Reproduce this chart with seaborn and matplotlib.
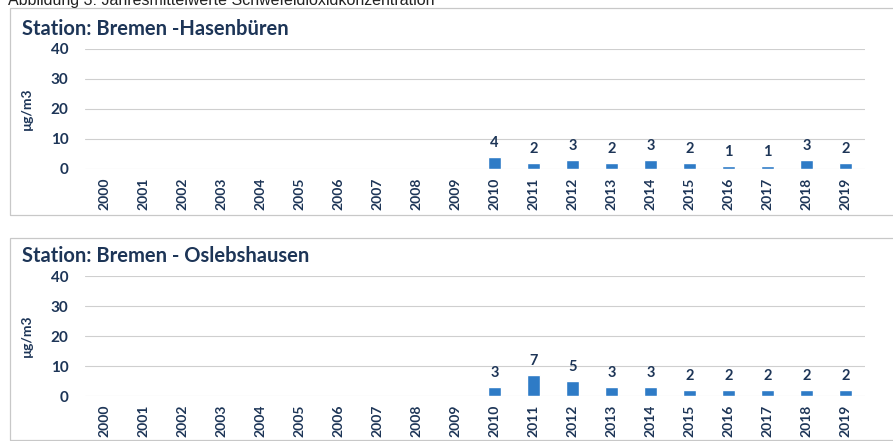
import numpy as np
import pandas as pd
import matplotlib
matplotlib.use("Agg")
import matplotlib.pyplot as plt
from matplotlib.patches import Rectangle
import seaborn as sns

# ================= DATA =================
years = [str(y) for y in range(2000, 2020)]
hasenbueren = [np.nan] * 10 + [4, 2, 3, 2, 3, 2, 1, 1, 3, 2]
oslebshausen = [np.nan] * 10 + [3, 7, 5, 3, 3, 2, 2, 2, 2, 2]
stations = ["Station: Bremen -Hasenbüren", "Station: Bremen - Oslebshausen"]
fig_title = "Abbildung 3: Jahresmittelwerte Schwefeldioxidkonzentration"

# ================= STYLE =================
sns.set_style("white")
plt.rcParams["font.family"] = ["Lato", "DejaVu Sans"]

bar_color = "#2E7BC6"
text_color = "#1D3557"
grid_color = "#cfcfcf"

W, H = 893, 441
fig = plt.figure(figsize=(W / 100, H / 100), dpi=100)

# panel frames (pixel coords -> figure fraction)
for top, bottom in [(8, 215), (238, 440)]:
    fig.patches.append(Rectangle((10 / W, 1 - bottom / H), 1.0, (bottom - top) / H,
                                 transform=fig.transFigure, fill=False,
                                 edgecolor="#c8c8c8", linewidth=0.9))

fig.text(8 / W, 1 - 1 / H, fig_title, family=["Liberation Sans", "DejaVu Sans"],
         fontsize=11.5, color="#222222", va="center", ha="left")

panels = [(hasenbueren, 169), (oslebshausen, 396)]

for (values, zero_px), name in zip(panels, stations):
    ax = fig.add_axes([85 / W, 1 - zero_px / H, 780 / W, 120 / H])
    df = pd.DataFrame({"Jahr": years, "Wert": values})
    sns.barplot(data=df, x="Jahr", y="Wert", order=years, color=bar_color,
                width=0.34, saturation=1, ax=ax)
    ax.set_ylim(0, 40)
    ax.set_xlim(-0.5, len(years) - 0.5)
    ax.set_yticks([0, 10, 20, 30, 40])
    for yv in [0, 10, 20, 30, 40]:
        ax.axhline(yv, color=grid_color, linewidth=0.8, zorder=0)
    sns.despine(ax=ax, left=True, bottom=True, top=True, right=True)
    ax.tick_params(axis="y", length=0, pad=12, labelsize=11, labelcolor=text_color)
    ax.tick_params(axis="x", length=0, pad=6, labelsize=10, labelcolor=text_color,
                   rotation=90)
    for lab in ax.get_xticklabels() + ax.get_yticklabels():
        lab.set_fontweight("bold")
    ax.set_xlabel("")
    ax.set_ylabel("µg/m3", fontsize=10, fontweight="bold", color=text_color)
    ax.yaxis.set_label_coords(-0.067, 0.5)

    # value labels
    for i, v in enumerate(values):
        if not np.isnan(v):
            ax.annotate(f"{v:g}", (i, v), xytext=(0, 5), textcoords="offset points",
                        ha="center", va="bottom", fontsize=10.5, fontweight="bold",
                        color=text_color)

    ax.text(-0.081, 1.17, name, transform=ax.transAxes, ha="left", va="center",
            fontsize=14.5, fontweight="bold", color=text_color)

fig.savefig("out.png", dpi=100)
